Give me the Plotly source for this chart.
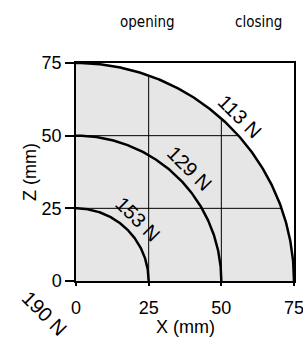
import numpy as np
import plotly.graph_objects as go

# ---- data ----
radii = [75, 50, 25, 0]                 # mm, stroke radius for each force curve
force_labels = ["113 N", "129 N", "153 N", "190 N"]
grid_vals = [25, 50]
tick_vals = [0, 25, 50, 75]
tick_text = ["0", "25", "50", "75"]
header_labels = ["opening", "closing"]

R = max(radii)
FONT = "Liberation Sans, Arial, sans-serif"
NARROW = "DejaVu Sans Condensed, Liberation Sans Narrow, sans-serif"

W, H = 303, 340
ML, MR, MT, MB = 76, 9, 63, 59
PW, PH = W - ML - MR, H - MT - MB

def px2paper(px, py):
    return (px - ML) / PW, 1 - (py - MT) / PH

fig = go.Figure()

# filled quarter disc
th = np.linspace(0, np.pi / 2, 200)
fx = np.concatenate([[0], R * np.cos(th), [0]])
fz = np.concatenate([[0], R * np.sin(th), [0]])
fig.add_trace(go.Scatter(x=fx, y=fz, fill="toself", fillcolor="#e6e6e6",
                         line=dict(width=0), mode="lines", hoverinfo="skip"))

# grid lines clipped to the disc
for g in grid_vals:
    e = np.sqrt(R**2 - g**2)
    fig.add_trace(go.Scatter(x=[g, g], y=[0, e], mode="lines",
                             line=dict(color="black", width=1), hoverinfo="skip"))
    fig.add_trace(go.Scatter(x=[0, e], y=[g, g], mode="lines",
                             line=dict(color="black", width=1), hoverinfo="skip"))

# arcs
for r in radii:
    if r == 0:
        continue
    fig.add_trace(go.Scatter(x=r * np.cos(th), y=r * np.sin(th), mode="lines",
                             line=dict(color="black", width=2.5), hoverinfo="skip"))

# arc labels (paper coords so the outside one is not hidden)
c45 = np.cos(np.pi / 4)
for r, lab in zip(radii, force_labels):
    lr = r + 5 if r > 0 else -15.5
    fig.add_annotation(x=lr * c45 / R, y=lr * c45 / R, text=lab, showarrow=False,
                       textangle=45, xref="paper", yref="paper",
                       xanchor="center", yanchor="middle",
                       font=dict(family=FONT, size=20, color="black"))

# header labels
for lab, hx in zip(header_labels, [147, 258]):
    px_, py_ = px2paper(hx, 22)
    fig.add_annotation(x=px_, y=py_, xref="paper", yref="paper",
                       xanchor="center", yanchor="middle",
                       text=lab, showarrow=False,
                       font=dict(family=NARROW, size=15, color="black"))

# axis titles
tx, ty = px2paper(185, 327)
fig.add_annotation(x=tx, y=ty, xref="paper", yref="paper", text="X (mm)",
                   showarrow=False, xanchor="center", yanchor="middle",
                   font=dict(family=FONT, size=18, color="black"))
tx, ty = px2paper(30, 172)
fig.add_annotation(x=tx, y=ty, xref="paper", yref="paper", text="Z (mm)",
                   showarrow=False, xanchor="center", yanchor="middle",
                   textangle=-90,
                   font=dict(family=FONT, size=18, color="black"))

fig.update_layout(
    width=W, height=H,
    margin=dict(l=ML, r=MR, t=MT, b=MB, autoexpand=False),
    paper_bgcolor="white", plot_bgcolor="white",
    showlegend=False,
    font=dict(family=FONT, size=18, color="black"),
)
fig.update_xaxes(range=[0, R], tickvals=tick_vals, ticktext=tick_text,
                 showgrid=False, zeroline=False, showline=True, linecolor="black",
                 linewidth=1.5, mirror=True, ticks="outside", ticklen=3,
                 tickcolor="black", tickwidth=1.5, ticklabelstandoff=7,
                 ticklabeloverflow="allow", automargin=False)
fig.update_yaxes(range=[0, R], tickvals=tick_vals, ticktext=tick_text,
                 showgrid=False, zeroline=False, showline=True, linecolor="black",
                 linewidth=1.5, mirror=True, ticks="outside", ticklen=9,
                 tickcolor="black", tickwidth=1.5, ticklabeloverflow="allow",
                 automargin=False)

fig.write_html("out.html", config={"displayModeBar": False},
               post_script="document.body.style.margin='0';"
                           "document.body.style.overflow='hidden';")
